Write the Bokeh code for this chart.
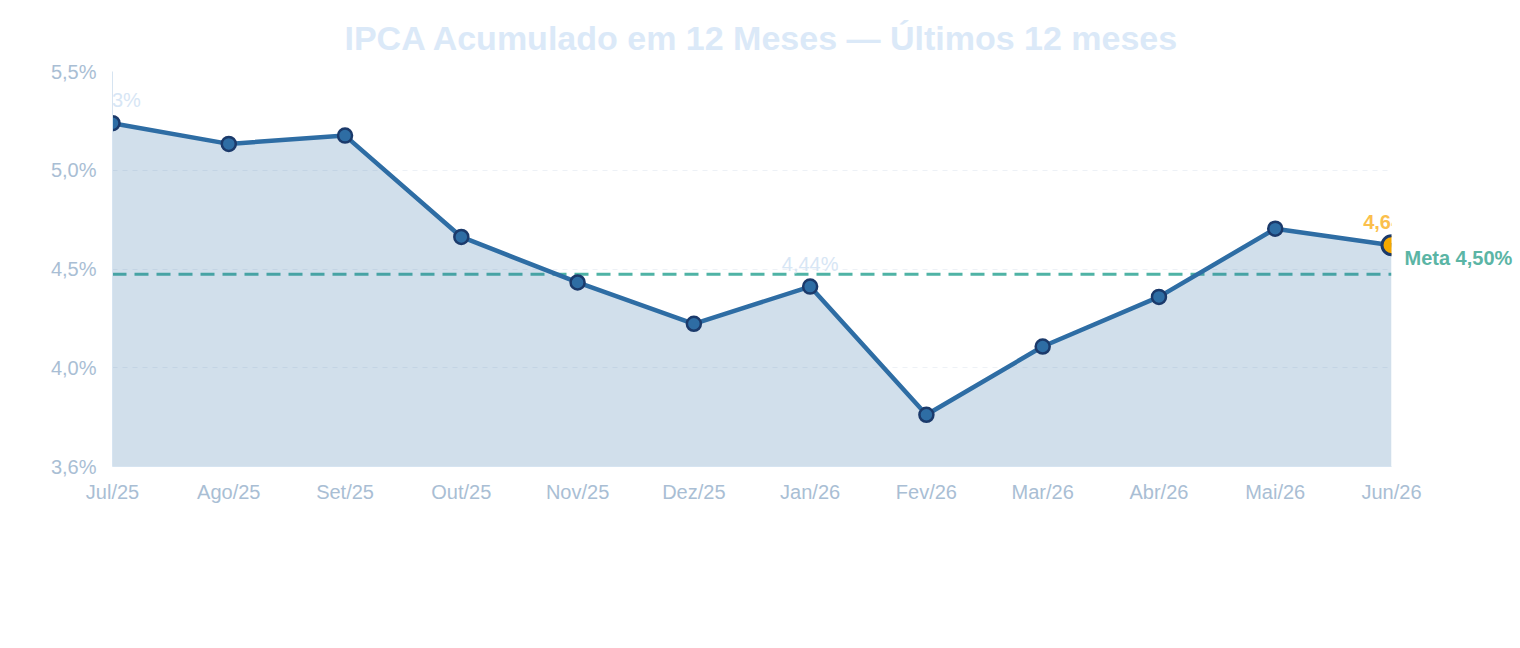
from bokeh.plotting import figure
from bokeh.models import FixedTicker, Range1d, Span, ColumnDataSource, LinearAxis, Title
from bokeh.core.properties import value
from bokeh.embed import file_html
from bokeh.resources import INLINE

months = ["Jul/25", "Ago/25", "Set/25", "Out/25", "Nov/25", "Dez/25",
          "Jan/26", "Fev/26", "Mar/26", "Abr/26", "Mai/26", "Jun/26"]
ipca = [5.23, 5.13, 5.17, 4.68, 4.46, 4.26, 4.44, 3.82, 4.15, 4.39, 4.72, 4.64]
meta = 4.50
label_idx = [0, 6]
title_text = "IPCA Acumulado em 12 Meses — Últimos 12 meses"

FONT = "Liberation Sans"

def fmt(v, d):
    return f"{v:.{d}f}".replace(".", ",") + "%"

x = list(range(len(months)))
lo = round(min(ipca) - 0.25, 6)
hi = round(max(ipca) + 0.25, 6)
yticks = [round(lo + k * (hi - lo) / 4, 6) for k in range(5)]
ylabels = {t: fmt(t, 1) for t in yticks}

FRAME_H = 395
p = figure(width=1520, height=648, x_range=Range1d(0, len(months) - 1),
           y_range=Range1d(lo, hi), output_backend="svg", toolbar_location=None,
           min_border_left=112, min_border_right=129, min_border_top=71,
           min_border_bottom=182)
p.title = Title(text=title_text, align="left", offset=232, standoff=29,
                text_font=FONT, text_font_size="34px", text_font_style="bold",
                text_color="#dbe9f8")
p.outline_line_color = None
p.background_fill_color = "white"
p.border_fill_color = "white"

# axes
p.yaxis.ticker = FixedTicker(ticks=yticks)
p.yaxis.major_label_overrides = ylabels
p.xaxis.ticker = FixedTicker(ticks=x)
p.xaxis.major_label_overrides = {i: m for i, m in zip(x, months)}
for ax in (p.xaxis, p.yaxis):
    ax.axis_line_color = "#d6e4f1"
    ax.axis_line_width = 1
    ax.major_tick_line_color = None
    ax.minor_tick_line_color = None
    ax.major_tick_out = 0
    ax.major_tick_in = 0
    ax.major_label_text_color = "#a9bed4"
    ax.major_label_text_font_size = "20px"
    ax.major_label_text_font = FONT
p.yaxis.major_label_standoff = 16
p.xaxis.major_label_standoff = 14

# right-hand axis carrying the "Meta" label, its range lifted so the text sits above the line
lift = 16 * (hi - lo) / FRAME_H
p.extra_y_ranges = {"meta": Range1d(lo - lift, hi - lift)}
meta_axis = LinearAxis(y_range_name="meta", ticker=FixedTicker(ticks=[meta]),
                       major_label_overrides={meta: "Meta " + fmt(meta, 2)})
meta_axis.axis_line_color = None
meta_axis.major_tick_line_color = None
meta_axis.minor_tick_line_color = None
meta_axis.major_tick_out = 0
meta_axis.major_tick_in = 0
meta_axis.major_label_standoff = 13
meta_axis.major_label_text_color = "#5bb5a5"
meta_axis.major_label_text_font = FONT
meta_axis.major_label_text_font_size = "20px"
meta_axis.major_label_text_font_style = "bold"
p.add_layout(meta_axis, "right")

p.xgrid.grid_line_color = None
p.ygrid.ticker = FixedTicker(ticks=yticks)
p.ygrid.grid_line_color = "#edf1f6"
p.ygrid.grid_line_dash = "5 5"
p.ygrid.grid_line_width = 1

# meta line
span = Span(location=meta, dimension="width", line_color="#4fb3a5",
            line_width=3, line_dash="14 8", level="underlay")
p.add_layout(span)

src = ColumnDataSource(dict(x=x, y=ipca))
p.varea(x="x", y1=lo, y2="y", source=src, fill_color="#2e6da4", fill_alpha=0.22)
p.line(x="x", y="y", source=src, line_color="#2e6da4", line_width=4.5)
p.scatter(x=x[:-1], y=ipca[:-1], size=14, fill_color="#2e6da4",
          line_color="#1b3a6b", line_width=2.5)
p.scatter(x=x[-1:], y=ipca[-1:], size=19, fill_color="#f5a800",
          line_color="#1b3a6b", line_width=3)

# data labels
p.text(x=[x[i] for i in label_idx], y=[ipca[i] for i in label_idx],
       text=[fmt(ipca[i], 2) for i in label_idx], y_offset=-23,
       text_align="center", text_baseline="middle",
       text_color="#d7e6f5", text_font=value(FONT), text_font_size="20px")
p.text(x=x[-1:], y=ipca[-1:], text=[fmt(ipca[-1], 2)], y_offset=-23,
       text_align="center", text_baseline="middle",
       text_color="#fbbf4c", text_font=value(FONT), text_font_size="20px",
       text_font_style="bold")

open("out.html", "w").write(file_html(p, INLINE))
